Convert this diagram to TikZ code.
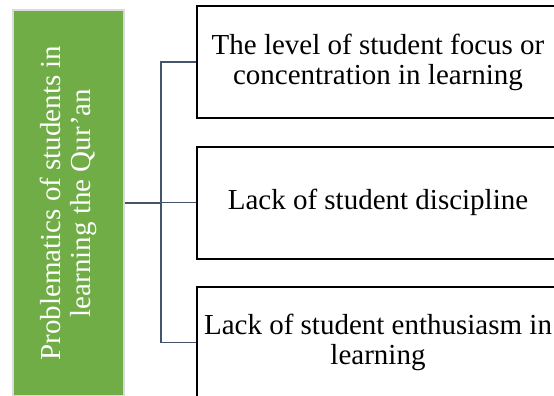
\documentclass[tikz,border=0pt]{standalone}
\usepackage{fontspec}
\setmainfont{Liberation Serif}
\definecolor{leafgreen}{HTML}{70AD47}
\definecolor{slateline}{HTML}{44546A}
\definecolor{paleedge}{HTML}{DADADA}

\begin{document}
\begin{tikzpicture}[x=1pt, y=-1pt,
   topic/.style={fill=leafgreen, draw=paleedge, line width=1.5pt, minimum width=111pt, minimum height=386pt, inner sep=0pt},
   item/.style={draw=black, line width=2pt, fill=white, minimum width=362pt, minimum height=112pt, align=center, inner sep=0pt, font=\fontsize{29}{30}\selectfont},
   link/.style={draw=slateline, line width=1.6pt}]
   \clip (0,0) rectangle (554,396);
   \fill[white] (0,0) rectangle (554,396);

   \node[topic] (topic) at (68.5, 203) {};
   \node[rotate=90, text=white, align=center, font=\fontsize{29}{30}\selectfont] (topictext) at (topic.center) {Problematics of students in\\learning the Qur’an};

   \node[item] (focus) at (378, 62) {The level of student focus or\\concentration in learning};
   \node[item] (discipline) at (378, 202.5) {Lack of student discipline};
   \node[item] (enthusiasm) at (378, 342.5) {Lack of student enthusiasm in\\learning};

   \coordinate (bus) at (161, 0);
   \draw[link] (topic.east) -- (topic.east -| bus);
   \draw[link] (focus.west) -- (focus.west -| bus) |- (enthusiasm.west);
   \draw[link] (bus |- discipline.west) -- (discipline.west);
\end{tikzpicture}
\end{document}
